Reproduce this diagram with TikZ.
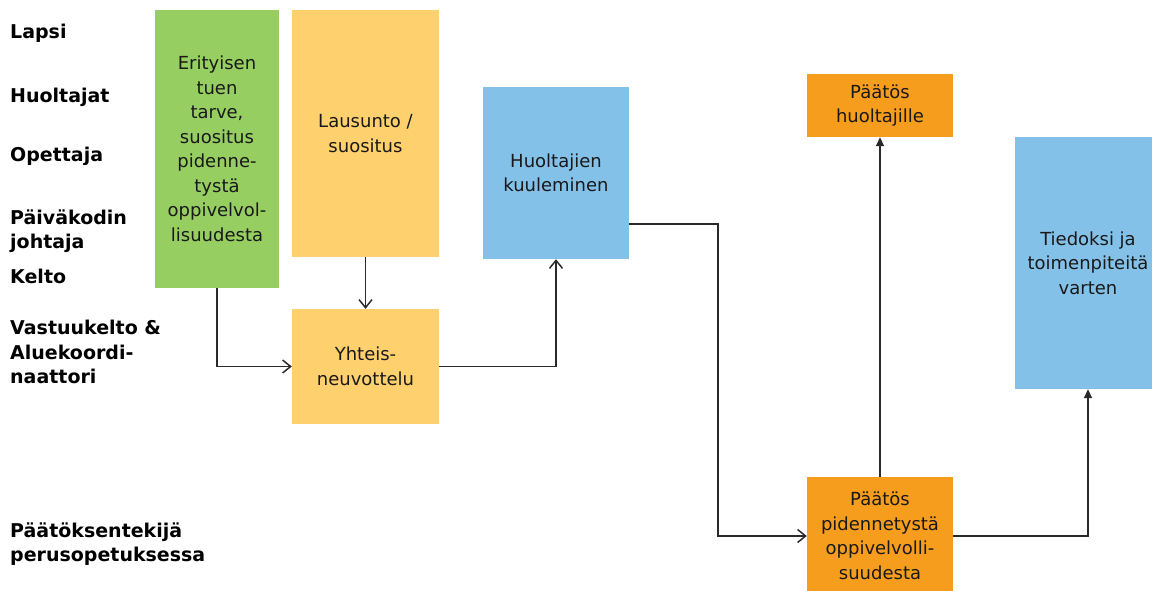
\documentclass[tikz,border=0pt]{standalone}
\usepackage{fontspec}
\setmainfont{DejaVu Sans}
\usetikzlibrary{arrows.meta}
\definecolor{cgreen}{HTML}{97CE62}
\definecolor{cyellow}{HTML}{FFD06E}
\definecolor{cblue}{HTML}{83C1E8}
\definecolor{corange}{HTML}{F79D1E}
\definecolor{cline}{HTML}{2A2A2A}
\tikzset{
  box/.style={rectangle, inner sep=0pt, align=center, text=black!90,
    font=\fontsize{18}{24.5}\selectfont},
  role/.style={anchor=base west, inner sep=0pt, text=black,
    font=\fontsize{19}{24}\selectfont\bfseries},
  openarr/.style={draw=cline, line width=1.6pt, -{Straight Barb[length=8pt,width=13pt,line width=1.5pt]}},
  fillarr/.style={draw=cline, line width=1.6pt, -{Triangle[length=9pt,width=8pt]}}
}
\begin{document}
\begin{tikzpicture}[x=1pt,y=-1pt]
\useasboundingbox[fill=white] (0,0) rectangle (1152,591);
% role labels
\node[role] (r1) at (10,39) {Lapsi};
\node[role] (r2) at (10,103) {Huoltajat};
\node[role] (r3) at (10,162) {Opettaja};
\node[role] (r4a) at (10,224) {Päiväkodin};
\node[role] (r4b) at (10,248) {johtaja};
\node[role] (r5) at (10,283) {Kelto};
\node[role] (r6a) at (10,334) {Vastuukelto \&};
\node[role] (r6b) at (10,359) {Aluekoordi-};
\node[role] (r6c) at (10,383) {naattori};
\node[role] (r7a) at (10,537) {Päätöksentekijä};
\node[role] (r7b) at (10,561) {perusopetuksessa};
% boxes
\node[box, fill=cgreen, minimum width=124pt, minimum height=278pt] (green) at (217,149)
  {Erityisen\\tuen\\tarve,\\suositus\\pidenne-\\tystä\\oppivelvol-\\lisuudesta};
\node[box, fill=cyellow, minimum width=147pt, minimum height=247pt] (laus) at (365.5,133.5)
  {Lausunto /\\suositus};
\node[box, fill=cyellow, minimum width=147pt, minimum height=115pt] (yht) at (365.5,366.5)
  {Yhteis-\\neuvottelu};
\node[box, fill=cblue, minimum width=146pt, minimum height=172pt] (huol) at (556,173)
  {Huoltajien\\kuuleminen};
\node[box, fill=corange, minimum width=146pt, minimum height=63pt] (ph) at (880,105.5)
  {Päätös\\huoltajille};
\node[box, fill=cblue, minimum width=146pt, minimum height=252pt] (tied) at (1088,263)
  {Tiedoksi ja\\toimenpiteitä\\varten};
\node[box, fill=corange, minimum width=146pt, minimum height=118pt] (pp) at (880,536)
  {Päätös\\pidennetystä\\oppivelvolli-\\suudesta};
% connectors
\draw[openarr] (green.south) |- (yht.west);
\draw[openarr] (laus.south) -- (yht.north);
\draw[openarr] (yht.east) -| (huol.south);
\draw[openarr] ([yshift=-51pt]huol.east) -- ++(89,0) |- (pp.west);
\draw[fillarr] (pp.north) -- (ph.south);
\draw[fillarr] (pp.east) -| (tied.south);
\end{tikzpicture}
\end{document}
